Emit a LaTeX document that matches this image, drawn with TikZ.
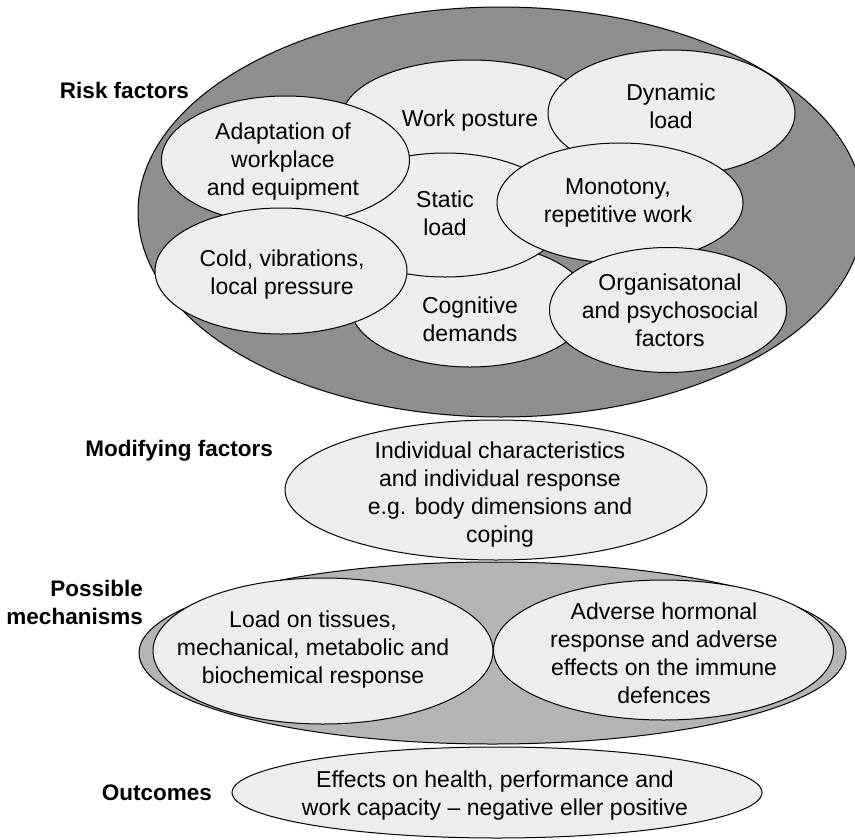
\documentclass[tikz,border=0pt]{standalone}
\usepackage{fontspec}
\setmainfont{Liberation Sans}
\usepackage{xcolor}
\usepackage{tikz}
\usetikzlibrary{shapes.geometric}
\definecolor{riskgray}{HTML}{8E8E8E}
\definecolor{mechgray}{HTML}{B4B4B4}
\definecolor{blobgray}{HTML}{EDEDED}
\newcommand{\blobfont}{\fontsize{23}{28}\selectfont}
\newcommand{\headfont}{\fontsize{22.5}{28}\selectfont\bfseries}
\tikzset{
  blob/.style 2 args={ellipse, draw=black, line width=1pt, fill=blobgray,
              minimum width=#1, minimum height=#2, inner sep=0pt},
  txt/.style={font=\blobfont, align=center, inner sep=0pt},
  head/.style={font=\headfont, align=right, inner sep=0pt}
}

\begin{document}
\begin{tikzpicture}[x=1pt, y=-1pt]
  \useasboundingbox (0,0) rectangle (855,839);
  % risk factors
  \node[blob={726pt}{410pt}, fill=riskgray] (risk) at (501,212) {};
  \node[blob={256pt}{116pt}] (work) at (470,118) {};
  \node[blob={240pt}{124pt}] (cogn) at (470,305) {};
  \node[blob={240pt}{124pt}] (static) at (445,215) {};
  \node[blob={247pt}{126pt}] (dyn) at (671.5,113) {};
  \node[blob={248pt}{128pt}] (adapt) at (285.5,160) {};
  \node[blob={246pt}{120pt}] (mono) at (620,203) {};
  \node[blob={252pt}{126pt}] (cold) at (281,271) {};
  \node[blob={237pt}{125pt}] (org) at (668,310) {};
  \node[txt] (worktxt) at (470,121) {Work posture};
  \node[txt] (cogntxt) at (470,319) {Cognitive\\demands};
  \node[txt] (statictxt) at (445,213) {Static\\load};
  \node[txt] (dyntxt) at (671,106) {Dynamic\\load};
  \node[txt] (adapttxt) at (283,162) {Adaptation of\\workplace\\and equipment};
  \node[txt] (monotxt) at (618,203) {Monotony,\\repetitive work};
  \node[txt] (coldtxt) at (282,275) {Cold, vibrations,\\local pressure};
  \node[txt] (orgtxt) at (670,310) {Organisatonal\\and psychosocial\\factors};
  \node[head, anchor=base east] (riskhead) at (189,98) {Risk factors};

  % modifying factors
  \node[blob={422pt}{140pt}] (modif) at (496,490) {};
  \node[txt] (modiftxt) at (500,495) {Individual characteristics\\and individual response\\e.g. body dimensions and\\coping};
  \node[head, anchor=base east] (modifhead) at (273,456) {Modifying factors};

  % possible mechanisms
  \node[blob={707pt}{182pt}, fill=mechgray] (mech) at (492.5,653) {};
  \node[blob={340pt}{146pt}] (load) at (323,651) {};
  \node[blob={340pt}{140pt}] (horm) at (663.5,650) {};
  \node[txt] (loadtxt) at (313,650) {Load on tissues,\\mechanical, metabolic and\\biochemical response};
  \node[txt] (hormtxt) at (664,653) {Adverse hormonal\\response and adverse\\effects on the immune\\defences};
  \node[head, anchor=east] (mechhead) at (143,602) {Possible\\mechanisms};

  % outcomes
  \node[blob={530pt}{91pt}] (outc) at (497,792.5) {};
  \node[txt] (outctxt) at (495,796) {Effects on health, performance and\\work capacity -- negative eller positive};
  \node[head, anchor=base east] (outchead) at (212,800) {Outcomes};
\end{tikzpicture}
\end{document}
